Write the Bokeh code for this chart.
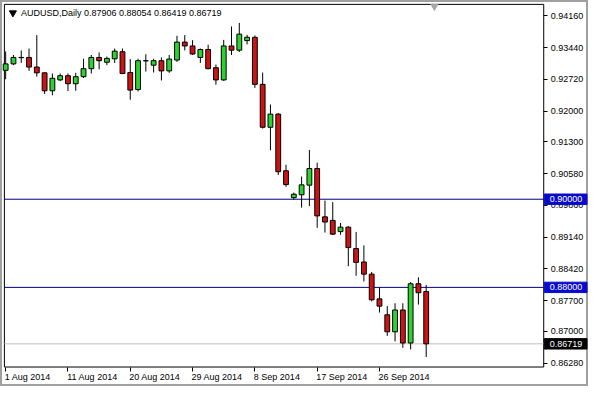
from bokeh.plotting import figure
from bokeh.models import Range1d, FixedTicker, LinearAxis, ColumnDataSource
from bokeh.core.properties import value
from bokeh.embed import file_html
from bokeh.resources import INLINE

# ---- data (AUDUSD daily candles) ----
opens = [0.92925, 0.93071, 0.93217, 0.93217, 0.92999, 0.92868, 0.92461, 0.92707, 0.92803, 0.92620,
         0.92781, 0.92962, 0.93217, 0.93108, 0.93186, 0.93347, 0.92875, 0.92489, 0.93143, 0.93042,
         0.93143, 0.92912, 0.93158, 0.93565, 0.93478, 0.93217, 0.93397, 0.92984, 0.92707, 0.93478,
         0.93382, 0.93600, 0.93674, 0.92607, 0.91633, 0.91931, 0.90646, 0.90036, 0.90101, 0.90319,
         0.90696, 0.89600, 0.89520, 0.89265, 0.89367, 0.88881, 0.88576, 0.88300, 0.87740, 0.87378,
         0.86992, 0.87487, 0.86738, 0.88082, 0.87906]
highs = [0.93354, 0.93273, 0.93376, 0.93419, 0.93724, 0.92875, 0.92853, 0.92853, 0.92853, 0.92868,
         0.93186, 0.93273, 0.93332, 0.93238, 0.93419, 0.93419, 0.93180, 0.93186, 0.93289, 0.93186,
         0.93217, 0.93273, 0.93709, 0.93724, 0.93609, 0.93419, 0.93506, 0.93055, 0.93615, 0.93920,
         0.94001, 0.93731, 0.93718, 0.92875, 0.92149, 0.91953, 0.90783, 0.90151, 0.90515, 0.91117,
         0.90827, 0.89970, 0.89934, 0.89461, 0.89389, 0.89258, 0.88953, 0.88350, 0.87995, 0.87574,
         0.87640, 0.87640, 0.88119, 0.88228, 0.88054]
lows = [0.92722, 0.93042, 0.93092, 0.92912, 0.92781, 0.92389, 0.92358, 0.92679, 0.92454, 0.92461,
        0.92750, 0.92853, 0.92947, 0.93042, 0.93092, 0.92838, 0.92258, 0.92445, 0.92896, 0.92875,
        0.92694, 0.92868, 0.93114, 0.93376, 0.93273, 0.93092, 0.92947, 0.92598, 0.92685, 0.93273,
        0.93339, 0.93513, 0.92526, 0.91604, 0.91110, 0.90550, 0.90282, 0.89992, 0.89809, 0.89846,
        0.89352, 0.89243, 0.89186, 0.89193, 0.88480, 0.88263, 0.88132, 0.87683, 0.87428, 0.86899,
        0.86775, 0.86629, 0.86594, 0.87609, 0.86419]
closes = [0.93071, 0.93217, 0.93212, 0.92999, 0.92868, 0.92461, 0.92744, 0.92803, 0.92620, 0.92781,
          0.92962, 0.93217, 0.93143, 0.93195, 0.93360, 0.92853, 0.92476, 0.93143, 0.93140, 0.93143,
          0.92912, 0.93180, 0.93565, 0.93478, 0.93295, 0.93397, 0.92962, 0.92707, 0.93478, 0.93382,
          0.93746, 0.93674, 0.92607, 0.91633, 0.91931, 0.90624, 0.90332, 0.90114, 0.90326, 0.90696,
          0.89622, 0.89483, 0.89208, 0.89367, 0.88903, 0.88568, 0.88300, 0.87718, 0.87574, 0.86992,
          0.87487, 0.86738, 0.88082, 0.87879, 0.86719]

date_tick_index = [0, 8, 16, 24, 32, 40, 48]
date_tick_labels = ["1 Aug 2014", "11 Aug 2014", "20 Aug 2014", "29 Aug 2014",
                    "8 Sep 2014", "17 Sep 2014", "26 Sep 2014"]
price_ticks = [0.94160, 0.93440, 0.92720, 0.92000, 0.91300, 0.90580, 0.89860,
               0.89140, 0.88420, 0.87700, 0.87000, 0.86280]
price_tick_labels = ["0.94160", "0.93440", "0.92720", "0.92000", "0.91300", "0.90580", "0.89860",
                     "0.89140", "0.88420", "0.87700", "0.87000", "0.86280"]
level_lines = [0.90000, 0.88000]
level_labels = ["0.90000", "0.88000"]
bid_price = 0.86719
bid_label = "0.86719"
title_text = "AUDUSD,Daily  0.87906 0.88054 0.86419 0.86719"

# ---- layout constants (chart box inside the full-size frame) ----
W, H = 588, 386
FONT = "Liberation Sans"
FS = "9px"
XL, XR = -0.6625, 74.84          # whole frame, in bar units
YB_ALL, YT_ALL = 0.85751, 0.94509  # whole frame, in price units
X0, X1 = -0.1625, 69.09          # chart box
Y0, Y1 = 0.86193, 0.94421
pxx = W / (XR - XL)
pxy = H / (YT_ALL - YB_ALL)

n = len(opens)
idx = list(range(n))
up = [c >= o for o, c in zip(opens, closes)]
src = ColumnDataSource(dict(
    x=idx,
    top=[max(o, c) for o, c in zip(opens, closes)],
    bottom=[min(o, c) for o, c in zip(opens, closes)],
    high=highs, low=lows,
    color=["#2ED22E" if u else "#CC1414" for u in up],
))

p = figure(width=W, height=H, output_backend="svg", toolbar_location=None,
           x_range=Range1d(XL, XR), y_range=Range1d(YB_ALL, YT_ALL),
           y_axis_location="right", x_axis_location="below",
           min_border_left=0, min_border_top=0, min_border_right=0, min_border_bottom=0)
p.background_fill_color = "white"
p.border_fill_color = "white"
p.outline_line_color = "#A0A0A0"
p.outline_line_width = 3
p.grid.visible = False

# right price axis, fixed at the chart box edge
ya = p.yaxis[0]
ya.fixed_location = X1
ya.ticker = FixedTicker(ticks=price_ticks)
ya.major_label_overrides = {t: s for t, s in zip(price_ticks, price_tick_labels)}
ya.major_label_text_font = FONT
ya.major_label_text_font_size = FS
ya.major_label_text_color = "black"
ya.major_tick_out = 4
ya.major_tick_in = 0
ya.minor_tick_out = 0
ya.minor_tick_in = 0
ya.major_label_standoff = 3
ya.axis_line_color = None

# bottom time axis: tick marks
xa = p.xaxis[0]
xa.fixed_location = Y0
xa.ticker = FixedTicker(ticks=date_tick_index)
xa.major_label_overrides = {t: "" for t in date_tick_index}
xa.major_label_text_font_size = "0px"
xa.major_tick_out = 4
xa.major_tick_in = 0
xa.minor_tick_out = 0
xa.minor_tick_in = 0
xa.axis_line_color = None

# bottom time axis: labels, left-aligned to the ticks (shift by half label width)
def _w(s):
    wide = {"A": 6.0, "S": 6.0, " ": 2.5}
    return sum(wide.get(ch, 5.0) for ch in s)

label_pos = [t - 1.0 / pxx + (_w(s) / 2.0) / pxx for t, s in zip(date_tick_index, date_tick_labels)]
xl = LinearAxis(fixed_location=Y0, ticker=FixedTicker(ticks=label_pos),
                major_label_overrides={pos: s for pos, s in zip(label_pos, date_tick_labels)},
                major_tick_out=0, major_tick_in=0, minor_tick_out=0, minor_tick_in=0,
                axis_line_color=None, major_label_standoff=5,
                major_label_text_font=FONT, major_label_text_font_size=FS,
                major_label_text_color="black")
p.add_layout(xl, "below")

# chart box
p.quad(left=[X0], right=[X1], top=[Y1], bottom=[Y0], fill_color=None, line_color="black", line_width=1)

# horizontal levels
p.segment(x0=[X0] * len(level_lines), x1=[X1] * len(level_lines), y0=level_lines, y1=level_lines,
          line_color="#000080", line_width=1)
p.segment(x0=[X0], x1=[X1], y0=[bid_price], y1=[bid_price], line_color="#C0C0C0", line_width=1)

# candles
p.segment(x0="x", y0="low", x1="x", y1="high", source=src, line_color="black", line_width=1)
p.vbar(x="x", width=0.62, top="top", bottom="bottom", source=src,
       fill_color="color", line_color="black", line_width=1)

# header
p.scatter(x=[X0 + 8.5 / pxx], y=[Y1 - 8.5 / pxy], marker="inverted_triangle", size=7,
          fill_color="black", line_color="black")
p.text(x=[X0 + 16.5 / pxx], y=[Y1 - 9 / pxy], text=[title_text],
       text_font=value(FONT), text_font_size=FS, text_color="black",
       text_baseline="middle", text_align="left")
# chart shift marker
p.scatter(x=[55.05], y=[Y1 - 2 / pxy], marker="inverted_triangle", size=7,
          fill_color="#A8A8A8", line_color="#A8A8A8")

# price boxes on the scale (drawn above the axis labels)
box_h = 5.2 / pxy
box_l = X1 + 0.5 / pxx
box_r = XR - 1.5 / pxx
text_x = X1 + 6 / pxx
p.quad(left=[box_l] * len(level_lines), right=[box_r] * len(level_lines),
       top=[v + box_h for v in level_lines], bottom=[v - box_h for v in level_lines],
       fill_color="#0A0ACD", line_color="#0A0ACD", level="overlay")
p.text(x=[text_x] * len(level_lines), y=level_lines, text=level_labels,
       text_font=value(FONT), text_font_size=FS, text_color="white",
       text_baseline="middle", text_align="left", level="overlay")
p.quad(left=[box_l], right=[box_r], top=[bid_price + box_h], bottom=[bid_price - box_h],
       fill_color="black", line_color="black", level="overlay")
p.text(x=[text_x], y=[bid_price], text=[bid_label],
       text_font=value(FONT), text_font_size=FS, text_color="white",
       text_baseline="middle", text_align="left", level="overlay")

open("out.html", "w").write(file_html(p, INLINE))
